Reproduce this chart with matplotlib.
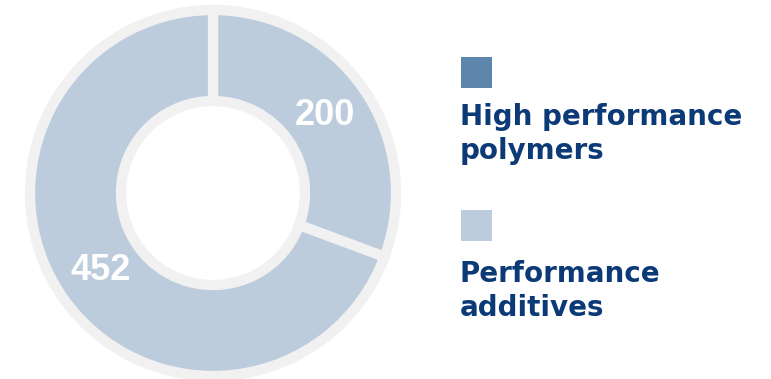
import numpy as np
import matplotlib.pyplot as plt
from matplotlib.patches import Rectangle

# segment data
labels = ['High performance\npolymers', 'Performance\nadditives']
values = [200, 452]
slice_colors = ['#BCCCDD', '#BCCCDD']
legend_colors = ['#5E85AC', '#BCCCDD']

ring_color = '#F1F1F1'
text_color = '#0B3A77'


def main():
    fig = plt.figure(figsize=(7.71, 3.79), dpi=100)
    ax = fig.add_axes([0, 0, 1, 1])

    # donut, drawn in pixel units
    cx, cy = 213, 379 - 193
    outer, inner = 183, 92
    wedges, _ = ax.pie(values, colors=slice_colors, startangle=90,
                       counterclock=False, center=(cx, cy), radius=outer,
                       wedgeprops=dict(width=outer - inner,
                                       edgecolor=ring_color,
                                       linewidth=7.4))

    # value labels in the middle of each ring segment
    r_mid = (outer + inner) / 2 - 1
    for w, v in zip(wedges, values):
        ang = np.deg2rad((w.theta1 + w.theta2) / 2)
        ax.text(cx + r_mid * np.cos(ang), cy + r_mid * np.sin(ang), str(v),
                color='white', fontsize=26, fontweight='bold',
                family='Liberation Sans', ha='center', va='center')

    # legend: square above each label, label split into lines
    tops = [57, 210]
    baselines = [125, 282]
    for top, base, lab, col in zip(tops, baselines, labels, legend_colors):
        ax.add_patch(Rectangle((461, 379 - top - 31), 31, 31, color=col,
                               lw=0))
        for i, line in enumerate(lab.split('\n')):
            ax.text(460, 379 - base - 34 * i, line, color=text_color,
                    fontsize=20, fontweight='bold', family='DejaVu Sans',
                    ha='left', va='baseline')

    ax.set_xlim(0, 771)
    ax.set_ylim(0, 379)
    ax.set_aspect('equal')
    ax.axis('off')

    fig.savefig('out.png', dpi=100)


if __name__ == "__main__":
    main()
